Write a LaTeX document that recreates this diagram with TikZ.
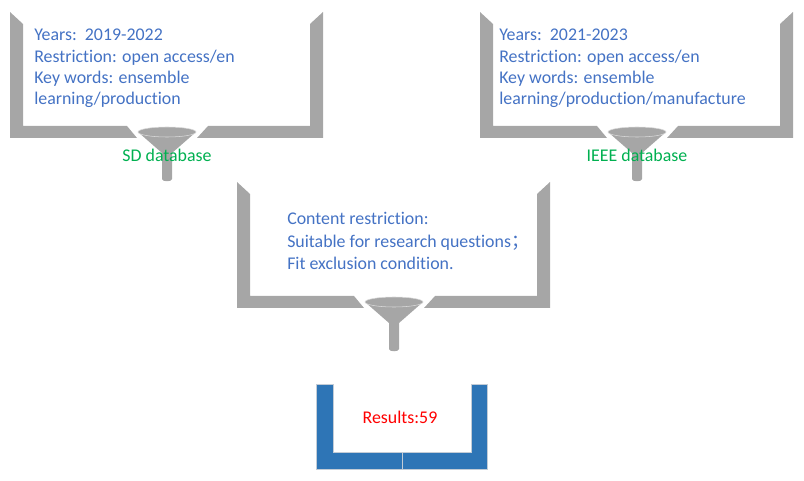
\documentclass[tikz,border=0pt]{standalone}
\usepackage{fontspec}
\setmainfont[Ligatures=NoCommon]{Carlito}
\newfontfamily\cjk{Noto Sans CJK SC}
\definecolor{bracketgray}{HTML}{A6A6A6}
\definecolor{textblue}{HTML}{4472C4}
\definecolor{dbgreen}{HTML}{00B050}
\definecolor{binblue}{HTML}{2E75B6}
\definecolor{binedge}{HTML}{C3CCD6}

\begin{document}
\begin{tikzpicture}[x=0.75pt,y=-0.75pt,
    wall/.style={fill=bracketgray},
    criteria/.style={anchor=base west, align=left, inner sep=0pt, text=textblue,
        font=\fontsize{13.4}{16.1}\selectfont},
    dblabel/.style={anchor=base, inner sep=0pt, text=dbgreen,
        font=\fontsize{13.4}{16.1}\selectfont},
    bin/.style={fill=binblue, draw=binedge, line width=0.6pt}]
            \useasboundingbox (0,0) rectangle (804,481);

            % Filter brackets with funnels (SD, IEEE, content)
            \foreach \bx/\by in {10/0, 480/0, 237/170}{
            \begin{scope}[shift={(\bx,\by)}]
                \fill[wall] (0,12) -- (13,24) -- (13,126) -- (117,126) -- (127,138) -- (0,138) -- cycle;
                \fill[wall] (187,138) -- (198,126) -- (300,126) -- (300,24) -- (313,12) -- (313,138) -- cycle;
                \fill[wall] (128,132) -- (152,153) -- (152,179) .. controls (152,182) and (162,182) .. (162,179) -- (162,153) -- (186,132) -- cycle;
                \draw[wall, draw=bracketgray!40, thin] (157,132) ellipse [x radius=29, y radius=5];
            \end{scope}
            }

            % Search criteria (anchored at the last line)
            \node[criteria] (sd criteria) at (34,105) {Years:\ \ 2019-2022\\Restriction: open access/en\\Key words: ensemble\\learning/production};
            \node[criteria] (ieee criteria) at (499,105) {Years:\ \ 2021-2023\\Restriction: open access/en\\Key words: ensemble\\learning/production/manufacture};
            \node[criteria, font=\fontsize{13.4}{16.9}\selectfont] (content) at (287,270) {Content restriction:\\Suitable for research questions{\cjk ；}\\Fit exclusion condition.};

            % Database names
            \node[dblabel] (sd) at (167,162) {SD database};
            \node[dblabel] (ieee) at (637,162) {IEEE database};

            % Result bin
            \draw[bin] (316,384) -- (333,384) -- (333,452) -- (402,452) -- (402,469) -- (316,469) -- cycle;
            \draw[bin] (487,384) -- (471,384) -- (471,452) -- (402,452) -- (402,469) -- (487,469) -- cycle;
            \node[dblabel, text=red] (results) at (400,423) {Results:59};
\end{tikzpicture}
\end{document}
